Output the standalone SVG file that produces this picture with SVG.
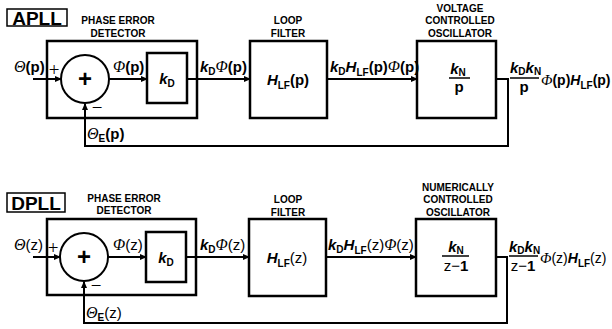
<svg xmlns="http://www.w3.org/2000/svg" width="612" height="329" viewBox="0 0 612 329">
<style>
.box{fill:#fff;stroke:#000;stroke-width:2.5}
.sm{fill:#fff;stroke:#000;stroke-width:2}
.ln{fill:none;stroke:#000;stroke-width:2}
.t{font-family:"Liberation Sans",Arial,sans-serif;font-weight:bold;font-size:15px;fill:#000}
.cap{font-family:"Liberation Sans",Arial,sans-serif;font-weight:bold;font-size:10px;fill:#000;text-anchor:middle}
.ttl{font-family:"Liberation Sans",Arial,sans-serif;font-weight:bold;font-size:19px;fill:#000;text-anchor:middle}
.g{font-family:"Liberation Serif","Times New Roman",serif;font-style:italic;font-weight:normal;font-size:16px}
.i{font-style:italic}
.s{font-size:10px}
.n{font-weight:normal}
.o{font-size:14px}
.o .g{font-size:15px}
.sg{font-family:"Liberation Serif",serif;font-weight:normal;font-size:19px;fill:#000}
</style>
<defs>
<marker id="ar" markerWidth="7" markerHeight="6" refX="6" refY="3" orient="auto" markerUnits="userSpaceOnUse">
<path d="M0,0 L7,3 L0,6 Z" fill="#000"/>
</marker>
</defs>

<g id="connectors">
<line class="ln" x1="33" y1="79" x2="61" y2="79" marker-end="url(#ar)"/>
<line class="ln" x1="109" y1="79" x2="147" y2="79" marker-end="url(#ar)"/>
<line class="ln" x1="187" y1="79" x2="250" y2="79" marker-end="url(#ar)"/>
<line class="ln" x1="327" y1="79" x2="417" y2="79" marker-end="url(#ar)"/>
<polyline class="ln" points="496,79 508,79 508,146 85,146 85,104" marker-end="url(#ar)"/>

<line class="ln" x1="33" y1="257" x2="60" y2="257" marker-end="url(#ar)"/>
<line class="ln" x1="108" y1="257" x2="146" y2="257" marker-end="url(#ar)"/>
<line class="ln" x1="186" y1="257" x2="249" y2="257" marker-end="url(#ar)"/>
<line class="ln" x1="326" y1="257" x2="416" y2="257" marker-end="url(#ar)"/>
<polyline class="ln" points="496,257 507,257 507,323 84,323 84,282" marker-end="url(#ar)"/>
</g>

<!-- APLL -->
<g id="apll-title">
<rect x="7" y="9" width="60" height="17" fill="#fff" stroke="#000" stroke-width="1.5"/>
<text class="ttl" x="37" y="24.5">APLL</text>
</g>
<g id="apll-ped">
<text class="cap" x="118" y="24">PHASE ERROR</text>
<text class="cap" x="118" y="37">DETECTOR</text>
<rect class="box" x="47" y="41" width="150" height="77" style="fill:none"/>
</g>
<g id="apll-sum">
<circle class="sm" cx="85" cy="79" r="24"/>
<text class="t" x="85" y="87" text-anchor="middle" style="font-size:24px">+</text>
<text class="sg" x="54" y="76" text-anchor="middle">+</text>
<text class="sg" x="97" y="114" text-anchor="middle">−</text>
</g>
<g id="apll-kd">
<rect class="box" x="147" y="53" width="40" height="50"/>
<text class="t" x="167" y="84" text-anchor="middle"><tspan class="i">k</tspan><tspan class="s" dy="3">D</tspan></text>
</g>
<g id="apll-lf">
<text class="cap" x="288" y="24">LOOP</text>
<text class="cap" x="288" y="37">FILTER</text>
<rect class="box" x="250" y="41" width="77" height="77"/>
<text class="t" x="288" y="85" text-anchor="middle"><tspan class="i">H</tspan><tspan class="s" dy="4">LF</tspan><tspan dy="-4">(p)</tspan></text>
</g>
<g id="apll-vco">
<text class="cap" x="460" y="12">VOLTAGE</text>
<text class="cap" x="460" y="24">CONTROLLED</text>
<text class="cap" x="460" y="37">OSCILLATOR</text>
<rect class="box" x="417" y="41" width="79" height="77"/>
<text class="t" x="458" y="74" text-anchor="middle"><tspan class="i">k</tspan><tspan class="s" dy="2">N</tspan></text>
<line x1="449" y1="78" x2="470" y2="78" stroke="#000" stroke-width="1.5"/>
<text class="t" x="459" y="92" text-anchor="middle">p</text>
</g>
<g id="apll-labels">
<text class="t" x="14" y="72"><tspan class="g">Θ</tspan>(p)</text>
<text class="t" x="113" y="72"><tspan class="g">Φ</tspan>(p)</text>
<text class="t" x="200" y="72"><tspan class="i">k</tspan><tspan class="s" dy="3">D</tspan><tspan class="g" dy="-3">Φ</tspan>(p)</text>
<text class="t" x="330" y="72"><tspan class="i">k</tspan><tspan class="s" dy="3">D</tspan><tspan class="i" dy="-3">H</tspan><tspan class="s" dy="4">LF</tspan><tspan dy="-4">(p)</tspan><tspan class="g">Φ</tspan>(p)</text>
<text class="t" x="87" y="139"><tspan class="g">Θ</tspan><tspan class="s" dy="3">E</tspan><tspan dy="-3">(p)</tspan></text>
<text class="t" x="510" y="73"><tspan class="i">k</tspan><tspan class="s" dy="2">D</tspan><tspan class="i" dy="-2">k</tspan><tspan class="s" dy="2">N</tspan></text>
<line x1="510" y1="78" x2="539" y2="78" stroke="#000" stroke-width="1.5"/>
<text class="t" x="524" y="92" text-anchor="middle">p</text>
<text class="t o" x="541" y="85"><tspan class="g">Φ</tspan>(p)<tspan class="i">H</tspan><tspan class="s" dy="4">LF</tspan><tspan dy="-4">(p)</tspan></text>
</g>

<!-- DPLL -->
<g id="dpll-title">
<rect x="7" y="193" width="58" height="19" fill="#fff" stroke="#000" stroke-width="1.5"/>
<text class="ttl" x="36" y="209.5">DPLL</text>
</g>
<g id="dpll-ped">
<text class="cap" x="124" y="202">PHASE ERROR</text>
<text class="cap" x="124" y="214">DETECTOR</text>
<rect class="box" x="47" y="219" width="149" height="76" style="fill:none"/>
</g>
<g id="dpll-sum">
<circle class="sm" cx="84" cy="257" r="24"/>
<text class="t" x="84" y="265" text-anchor="middle" style="font-size:24px">+</text>
<text class="sg" x="53" y="254" text-anchor="middle">+</text>
<text class="sg" x="96" y="292" text-anchor="middle">−</text>
</g>
<g id="dpll-kd">
<rect class="box" x="146" y="232" width="40" height="50"/>
<text class="t" x="166" y="263" text-anchor="middle"><tspan class="i">k</tspan><tspan class="s" dy="3">D</tspan></text>
</g>
<g id="dpll-lf">
<text class="cap" x="288" y="203">LOOP</text>
<text class="cap" x="288" y="216">FILTER</text>
<rect class="box" x="249" y="219" width="77" height="77"/>
<text class="t" x="287" y="263" text-anchor="middle"><tspan class="i">H</tspan><tspan class="s" dy="4">LF</tspan><tspan class="n" dy="-4">(z)</tspan></text>
</g>
<g id="dpll-nco">
<text class="cap" x="458" y="191">NUMERICALLY</text>
<text class="cap" x="458" y="203">CONTROLLED</text>
<text class="cap" x="458" y="216">OSCILLATOR</text>
<rect class="box" x="416" y="219" width="80" height="77"/>
<text class="t" x="456" y="252" text-anchor="middle"><tspan class="i">k</tspan><tspan class="s" dy="2">N</tspan></text>
<line x1="442" y1="256" x2="469" y2="256" stroke="#000" stroke-width="1.5"/>
<text class="t" x="456" y="271" text-anchor="middle"><tspan class="n">z</tspan><tspan class="n">−</tspan>1</text>
</g>
<g id="dpll-labels">
<text class="t" x="14" y="250"><tspan class="g">Θ</tspan><tspan class="n">(z)</tspan></text>
<text class="t" x="113" y="250"><tspan class="g">Φ</tspan><tspan class="n">(z)</tspan></text>
<text class="t" x="200" y="250"><tspan class="i">k</tspan><tspan class="s" dy="3">D</tspan><tspan class="g" dy="-3">Φ</tspan><tspan class="n">(z)</tspan></text>
<text class="t" x="328" y="250"><tspan class="i">k</tspan><tspan class="s" dy="3">D</tspan><tspan class="i" dy="-3">H</tspan><tspan class="s" dy="4">LF</tspan><tspan class="n" dy="-4">(z)</tspan><tspan class="g">Φ</tspan><tspan class="n">(z)</tspan></text>
<text class="t" x="86" y="318"><tspan class="g">Θ</tspan><tspan class="s" dy="3">E</tspan><tspan class="n" dy="-3">(z)</tspan></text>
<text class="t" x="509" y="252"><tspan class="i">k</tspan><tspan class="s" dy="2">D</tspan><tspan class="i" dy="-2">k</tspan><tspan class="s" dy="2">N</tspan></text>
<line x1="509" y1="256" x2="538" y2="256" stroke="#000" stroke-width="1.5"/>
<text class="t" x="523" y="271" text-anchor="middle"><tspan class="n">z</tspan><tspan class="n">−</tspan>1</text>
<text class="t o" x="540" y="263"><tspan class="g">Φ</tspan><tspan class="n">(z)</tspan><tspan class="i">H</tspan><tspan class="s" dy="4">LF</tspan><tspan class="n" dy="-4">(z)</tspan></text>
</g>
</svg>
